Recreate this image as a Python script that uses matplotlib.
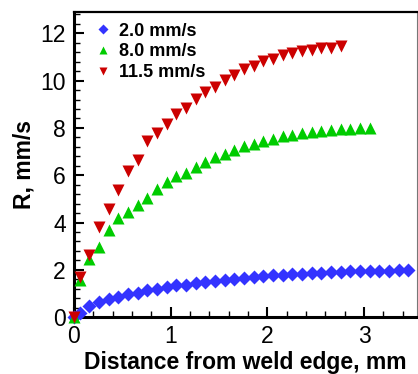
import numpy as np
import matplotlib
matplotlib.use("Agg")
import matplotlib.pyplot as plt
from matplotlib.ticker import MultipleLocator

plt.rcParams['font.family'] = ['Liberation Sans', 'DejaVu Sans']

# data
x_blue = [0.0, 0.06, 0.16, 0.26, 0.36, 0.46, 0.56, 0.66, 0.76, 0.86, 0.96, 1.06, 1.16, 1.26,
          1.36, 1.46, 1.56, 1.66, 1.76, 1.86, 1.96, 2.06, 2.16, 2.26, 2.36, 2.46, 2.56, 2.66,
          2.76, 2.86, 2.96, 3.06, 3.16, 3.26, 3.36, 3.46]
r_blue = [0.0, 0.18, 0.47, 0.65, 0.76, 0.86, 0.97, 1.03, 1.14, 1.21, 1.28, 1.34, 1.38, 1.43,
          1.50, 1.54, 1.58, 1.62, 1.66, 1.70, 1.74, 1.77, 1.80, 1.82, 1.84, 1.86, 1.88, 1.90,
          1.91, 1.93, 1.94, 1.95, 1.96, 1.97, 1.98, 1.99]

x_green = [0.0, 0.06, 0.16, 0.26, 0.36, 0.46, 0.56, 0.66, 0.76, 0.86, 0.96, 1.06, 1.16, 1.26,
           1.36, 1.46, 1.56, 1.66, 1.76, 1.86, 1.96, 2.06, 2.16, 2.26, 2.36, 2.46, 2.56, 2.66,
           2.76, 2.86, 2.96, 3.06]
r_green = [0.0, 1.57, 2.46, 2.95, 3.69, 4.18, 4.43, 4.75, 5.03, 5.42, 5.70, 5.95, 6.09, 6.34,
           6.54, 6.75, 6.91, 7.08, 7.22, 7.34, 7.46, 7.54, 7.64, 7.70, 7.78, 7.83, 7.88, 7.92,
           7.95, 7.97, 7.99, 8.00]

x_red = [0.0, 0.06, 0.16, 0.26, 0.36, 0.46, 0.56, 0.66, 0.76, 0.86, 0.96, 1.06, 1.16, 1.26,
         1.36, 1.46, 1.56, 1.66, 1.76, 1.86, 1.96, 2.06, 2.16, 2.26, 2.36, 2.46, 2.56, 2.66,
         2.76]
r_red = [0.0, 1.71, 2.61, 3.80, 4.56, 5.38, 6.17, 6.66, 7.43, 7.78, 8.18, 8.59, 8.84, 9.21,
         9.50, 9.73, 10.04, 10.22, 10.47, 10.61, 10.82, 10.92, 11.06, 11.17, 11.24, 11.31,
         11.36, 11.39, 11.45]

fig = plt.figure(figsize=(4.18, 3.74), dpi=100)
ax = fig.add_axes([0.177, 0.152, 0.821, 0.816])

ax.plot(x_blue, r_blue, 'D', color='#3333ff', ms=7, mec='none', clip_on=False, label='2.0 mm/s', zorder=3)
ax.plot(x_green, r_green, '^', color='#00cc00', ms=8, mec='none', clip_on=False, label='8.0 mm/s', zorder=3)
ax.plot(x_red, r_red, 'v', color='#cc0000', ms=8, mec='none', clip_on=False, label='11.5 mm/s', zorder=3)

ax.set_xlim(0, 3.55)
ax.set_ylim(0, 12.9)
ax.xaxis.set_major_locator(MultipleLocator(1))
ax.xaxis.set_minor_locator(MultipleLocator(0.2))
ax.yaxis.set_major_locator(MultipleLocator(2))
ax.yaxis.set_minor_locator(MultipleLocator(0.4))
ax.tick_params(which='major', direction='in', length=7, width=1.5, labelsize=16.5, pad=6)
ax.tick_params(which='minor', direction='in', length=4.5, width=1)

for s in ['left', 'bottom']:
    ax.spines[s].set_linewidth(2.2)
ax.spines['top'].set_linewidth(1.6)
ax.spines['right'].set_linewidth(0.8)
ax.spines['right'].set_color('#777777')

ax.set_xlabel('Distance from weld edge, mm', fontsize=16.5, fontweight='bold', labelpad=2)
ax.set_ylabel('R, mm/s', fontsize=16.5, fontweight='bold', labelpad=3)

ax.legend(loc='upper left', frameon=False, prop={'weight': 'bold', 'size': 13},
          handletextpad=0.3, labelspacing=0.2, borderaxespad=0.2, handlelength=1.1,
          markerscale=0.75, bbox_to_anchor=(0.025, 1.0))

fig.savefig('out.png', dpi=100)
